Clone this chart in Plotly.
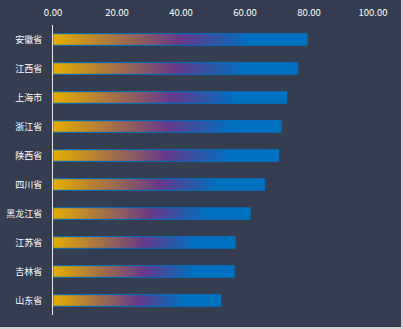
import plotly.graph_objects as go

provinces = ["安徽省", "江西省", "上海市", "浙江省", "陕西省", "四川省", "黑龙江省", "江苏省", "吉林省", "山东省"]
values = [79.4, 76.5, 73.0, 71.3, 70.5, 66.2, 61.6, 56.9, 56.6, 52.5]
x_ticks = [0, 20, 40, 60, 80, 100]

BG = "#343e50"
YELLOW = "#e6ad00"
PURPLE = "#67398a"
BLUE = "#0070c0"
half = 0.2

fig = go.Figure()
for i, (p, v) in enumerate(zip(provinces, values)):
    fig.add_trace(go.Scatter(
        x=[0, v, v, 0, 0],
        y=[i - half, i - half, i + half, i + half, i - half],
        mode="lines",
        fill="toself",
        line=dict(color=BLUE, width=1),
        fillgradient=dict(type="horizontal", start=0, stop=v,
                          colorscale=[[0, YELLOW], [0.5, PURPLE], [0.78, BLUE], [1, BLUE]]),
        hoverinfo="skip",
        showlegend=False,
    ))

fig.update_layout(
    width=403, height=329,
    margin=dict(l=53, r=30, t=25, b=14),
    paper_bgcolor=BG, plot_bgcolor=BG,
    font=dict(family="Noto Sans CJK SC", color="white", size=10),
    xaxis=dict(side="top", range=[0, 100], tickvals=x_ticks, tickformat=".2f",
               showgrid=False, zeroline=False, showline=False, automargin=False,
               ticks="outside", ticklen=4, tickcolor="rgba(0,0,0,0)",
               tickfont=dict(size=9.5, color="white")),
    yaxis=dict(range=[len(provinces) - 0.5, -0.5], tickvals=list(range(len(provinces))),
               ticktext=provinces, showgrid=False, zeroline=False, automargin=False,
               showline=True, linecolor="#e8e8e8", linewidth=1,
               ticks="outside", ticklen=8, tickcolor="rgba(0,0,0,0)",
               tickfont=dict(size=9, color="white")),
    shapes=[
        dict(type="rect", xref="paper", yref="paper", x0=348 / 320, x1=352 / 320,
             y0=(315 - 340) / 290, y1=(315 - 0) / 290 + 0.2, fillcolor="#d4d4d4", line_width=0, layer="above"),
        dict(type="rect", xref="paper", yref="paper", x0=-1, x1=2,
             y0=(315 - 327) / 290, y1=(315 - 340) / 290, fillcolor="#d4d4d4", line_width=0, layer="above"),
    ],
)

fig.write_html("out.html")
